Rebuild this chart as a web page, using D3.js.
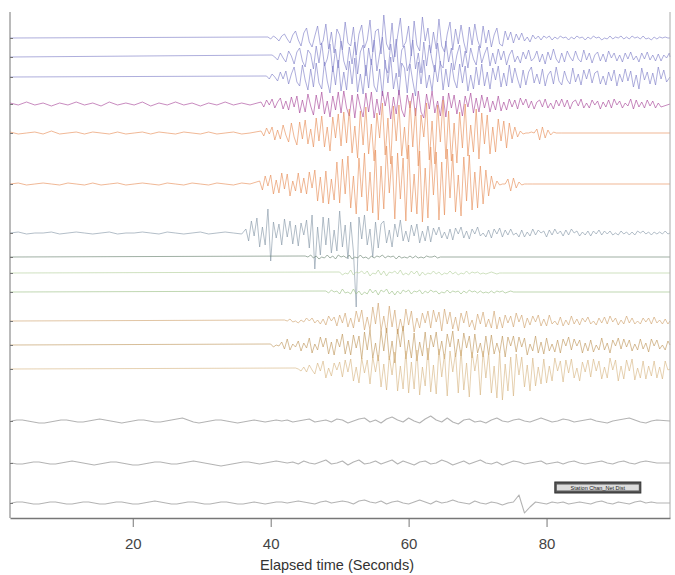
<!DOCTYPE html>
<html>
<head>
<meta charset="utf-8">
<script src="https://cdn.jsdelivr.net/npm/d3@7"></script>
<style>
  body { margin: 0; background: #fff; }
  .axis path, .axis line { stroke: #777; }
  .axis text { font-family: Arial, "Liberation Sans", sans-serif; font-size: 15px; fill: #444; }
</style>
</head>
<body>
<div id="chart"></div>
<script>
// Trace baselines (plot units from top), colours and wave onsets (seconds)
var offsets = [26, 45, 65, 92, 121, 172, 221, 245, 261, 280, 309, 333, 357, 409, 451, 491];
var colors = ["#8080c8", "#8080c8", "#8080c8", "#a8489a", "#e8905a", "#e8905a", "#8898a8", "#6a8270",
  "#b4d09c", "#9cc086", "#d0a470", "#c0985e", "#d8b684", "#a0a0a0", "#a0a0a0", "#a0a0a0"];
var onsets = [39.6, 40.2, 39.4, 38.6, 38.6, 38.4, 36.4, 45, 50, 48, 42, 40, 43.6, 2.4, 2.4, 2.4];
var steps = [0.4, 0.4, 0.4, 0.4, 0.4, 0.4, 0.4, 0.4, 0.4, 0.4, 0.4, 0.4, 0.4, 0.8, 0.8, 0.8];
var tickLabels = [20, 40, 60, 80];

// pre-onset noise, sampled every 1.2 s from the start of the record
var quiet1 = [0];
var quiet2 = [0];
var quiet3 = [0];
var quiet4 = [1, -1, 2, -1, 1, -2, 1, -1, 2, -1, 1, -2, 2, -1, 1, -1, 2, -2, 1, -1, 2, -1, 1, -2, 1, -1, 2, -1, 1, -1];
var quiet5 = [1, -1, 0, 1, -1, 2, -1, 0, 1, -1, 1, 0, -1, 1, -1, 0, 1, -1, 1, 0, -1, 1, 0, -1, 1, -1, 0, 1, -1, 0];
var quiet6 = [0, 1, -1, 0, 1, 0, -1, 1, 0, -1, 1, -1, 0, 1, -1, 0, 1, 0, -1, 1, 0, -1, 1, 0, -1, 1, 0, -1, 1, 0];
var quiet7 = [0, 1, -1, 0, 0, 1, -1, 0, 1, 0, -1, 0, 1, -1, 0, 0, 1, 0, -1, 1, 0, -1, 0, 1, -1, 0, 1, 0, -1];
var quiet8 = [0];
var quiet9 = [0];
var quiet10 = [0];
var quiet11 = [0];
var quiet12 = [0];
var quiet13 = [0];
var quiet14 = [];
var quiet15 = [];
var quiet16 = [];

// wave amplitudes (up positive), one row = 10 samples
var wave1 = [1, -1, 2, 0, -3, 2, 4, -1, -5, 3,
  7, -2, -8, 5, 10, -4, -9, 2, 12, -7,
  -3, 14, -11, 6, -15, 9, 3, -12, 16, -5,
  -8, 11, -17, 4, 13, -10, -2, 18, -14, 7,
  9, -16, 23, -6, -12, 15, -19, 2, 20, -9,
  -4, 12, -18, 17, -7, -13, 21, -3, 10, -15,
  6, -11, 19, -8, -14, 4, 16, -12, 9, -6,
  13, -4, -15, 11, -7, 14, -2, -10, 12, -5,
  8, -9, 3, 10, -6, -8, 7, -2, 6, -5,
  4, -2, 5, -3, 1, -4, 3, -1, 2, -2,
  2, 0, 2, -2, 1, -1, 2, 0, 1, -2,
  1, -1, 2, 0, 1, -2, 1, -1, 2, 0,
  1, -2, 0, -1, 2, -1, 1, 0, 2, -1,
  1, -1, 2, 0, 1, -1, 2, -1, 0, -2,
  1, -1, 1, 0, 1, 0];
var wave2 = [2, 0, -3, 4, -1, -5, 6, 1, -7, 5,
  9, -4, -10, 7, 3, -12, 11, -6, 14, -9,
  -2, 13, -15, 8, -11, 16, -4, -13, 10, -7,
  15, -17, 5, 12, -19, 9, -8, 17, -14, 3,
  20, -10, -16, 13, -5, 18, -20, 7, 11, -14,
  -6, 17, -12, 4, -16, 15, -9, 12, -3, -15,
  14, -7, -11, 16, -5, 9, -13, 2, 12, -10,
  6, -11, 9, -2, -8, 11, -6, 3, 10, -9,
  4, -7, 8, -3, 6, -8, 2, 7, -5, 1,
  -6, 5, -2, 7, -4, -1, 6, -5, 3, -7,
  5, -3, 8, -2, -6, 4, -5, 6, 0, -4,
  6, -2, -5, 7, -3, 4, -6, 2, 5, -4,
  3, -5, 6, -1, 4, -4, 2, -5, 4, -2,
  5, -3, 1, -5, 4, -2, 5, -3, 2, -4,
  3, -4, 2, -1, 4, -2];
var wave3 = [1, -2, 3, 0, -4, 5, -2, 6, -7, 3,
  10, -5, -9, 12, -3, -13, 8, -10, 14, -6,
  -12, 15, -4, -16, 11, -8, 17, -14, 5, -13,
  16, -7, 19, -15, 3, -17, 12, -11, 18, -9,
  -15, 8, -19, 17, -6, 20, -12, 4, -18, 14,
  9, -16, 13, -4, -19, 15, -7, 17, -11, 2,
  -14, 12, -5, 16, -13, 8, -10, 14, -3, -11,
  13, -6, 11, -14, 2, -12, 10, -8, 13, -9,
  5, -12, 9, -3, 11, -10, 4, -9, 12, -6,
  9, -2, -11, 7, -8, 5, 10, -6, 3, -7,
  8, -9, 2, 6, -7, 10, -4, -8, 6, -3,
  -7, 9, -5, 3, -8, 7, -2, 8, -6, 4,
  6, -7, 1, -8, 5, -4, 7, -9, 3, -5,
  8, -4, 6, -10, 2, -12, 9, -3, 5, -7,
  4, -8, 10, -2, 7, -5];
var wave4 = [2, -3, 4, -1, 5, -4, 2, 6, -5, 3,
  -6, 7, -3, 8, -9, 4, -8, 10, -2, -11,
  9, -5, 12, -10, 3, -13, 8, -6, 12, -9,
  13, -4, -12, 9, -14, 10, -3, -13, 11, -8,
  12, -14, 5, -11, 13, -2, 12, -15, 7, -10,
  14, -6, -13, 9, -4, 11, -12, 13, -8, -14,
  10, -5, 13, -9, 3, -12, 8, -13, 11, -4,
  9, -10, 4, -12, 8, -3, 11, -9, 6, -8,
  9, -4, 7, -8, 3, -6, 8, -7, 2, -6,
  5, -3, 4, -5, 6, -1, 5, -4, 3, -5,
  2, 4, -3, 5, -4, 1, -5, 4, -2, 5,
  -3, 4, -5, 2, 4, -2, 5, -4, 1, -4,
  4, -1, 3, -5, 2, -3, 4, -4, 5, -1,
  3, -4, 1, -2, 5, -5, 4, -3, 2, -4,
  4, -2, 3, -4, 1, -3];
var wave5 = [2, -3, 5, -1, 6, -7, 3, -6, 8, -2,
  -9, 10, -4, -12, 11, -6, 13, -11, 4, -14,
  15, -8, 17, -14, 6, -18, 16, -5, 19, -13,
  21, -10, 24, -20, 7, -25, 22, -12, 26, -21,
  9, -28, 20, -5, 30, -22, 15, -31, 27, -8,
  28, -23, 6, -26, 32, -14, 25, -33, 18, -4,
  30, -27, 12, -31, 28, -9, 33, -26, 22, -28,
  10, -30, 21, -15, 29, -23, 8, -19, 24, -26,
  20, -11, 18, -21, 6, -19, 14, -8, 12, -15,
  10, -6, 6, -4, 2, -1, 0, 0, 1, 0,
  4, -7, 6, -5, 3, -2, 1, 0, 0, 0];
var wave6 = [3, -6, 8, -2, 9, -10, 4, -9, 11, -5,
  10, -12, 3, -7, 11, -9, 6, -10, 12, -4,
  14, -17, 7, -19, 13, -20, 5, -16, 22, -19,
  25, -10, 28, -24, 8, -30, 26, -13, 31, -27,
  12, -29, 34, -36, 18, -25, 38, -9, 28, -35,
  31, -15, 26, -37, 39, -28, 10, -30, 33, -38,
  16, -34, 37, -11, 32, -36, 22, -31, 35, -14,
  30, -28, 9, -32, 27, -17, 29, -26, 12, -24,
  18, -20, 14, -12, 8, -5, 3, -1, 0, 0,
  5, -7, 6, -4, 2, -1, 0, 0, 0, 0];
var wave7 = [4, -8, 12, -3, 15, -14, 6, -12, 24, -28,
  11, -5, 9, -12, 14, -4, 12, -11, 8, -13,
  10, -2, 13, -15, 18, -36, 6, -22, 16, -12,
  15, -20, 3, -18, 22, -14, 8, -26, 11, -19,
  -74, 16, -6, 18, -12, 4, -24, 11, -15, 9,
  12, -10, 3, -14, 9, -4, 13, -8, 2, -9,
  8, -3, 9, -10, 2, -8, 7, -9, 5, -2,
  6, -5, 1, -6, 4, -7, 5, -1, 6, -5,
  2, -6, 4, -1, 6, -3, 0, -4, 3, -5,
  4, -1, 5, -4, 3, -2, 4, -2, 0, -4,
  3, -4, 1, -3, 4, -2, 3, 0, 2, -4,
  3, -2, 4, -1, 2, -3, 3, -2, 4, 0,
  2, -3, 1, -2, 2, -3, 2, -1, 3, -2,
  2, -1, 2, -2, 0, -2, 2, -1, 1, -2,
  1, -2, 2, 0, 2, -1, 1, -2, 1, -1,
  1, -1, 2, -1];
var wave8 = [1, 0, 2, -1, 1, -2, 0, -1, 2, -1,
  1, -2, 2, 0, 1, -1, 2, -2, 0, -1,
  2, -1, 0, -2, 1, -1, 1, 0, 2, -1,
  1, 0, 1, -2, 1, -1, 0, -1, 1, -1,
  1, -1, 0, -1, 1, 0, 0, 1, -1, 0];
var wave9 = [1, -2, 0, -1, 3, -2, 1, 0, 2, -1,
  2, -3, 0, -1, 3, -2, 2, -3, 1, 0,
  2, -1, 3, -2, 0, -2, 2, -1, 2, -3,
  1, -2, 0, -1, 2, -1, 1, -2, 0, -1,
  2, -1, 1, -2, 0, -1, 2, -1, 1, 0,
  1, -1, 0, -1, 0, 1, 0, -1, 0, 0];
var wave10 = [1, -1, 2, 0, 1, -2, 3, -1, 0, -2,
  3, -2, 1, -3, 0, -2, 3, -1, 2, -3,
  2, 0, 3, -2, 1, -3, 1, -2, 2, 0,
  2, -2, 1, 0, 2, -2, 1, -1, 2, 0,
  1, -2, 0, -1, 2, -1, 1, 0, 1, -2,
  1, -1, 2, 0, 1, -1, 1, -1, 0, -1,
  1, -1, 1, 0, 1, -1, 0, 1, 0, 0];
var wave11 = [1, 0, 2, -1, 0, -2, 1, -1, 3, 0,
  3, -2, 1, -3, 2, -4, 5, 0, 4, -5,
  6, -2, 8, -6, 3, -7, 10, -1, 11, -9,
  4, -9, 14, -3, 18, -10, 5, -12, 15, -6,
  11, -13, 2, -10, 12, -4, 10, -11, 3, -7,
  8, -2, 10, -7, 11, -1, 9, -10, 12, -3,
  9, -8, 4, -10, 8, -2, 10, -6, 1, -9,
  7, -3, 9, -6, 2, -7, 10, -8, 4, -7,
  6, -2, 5, -6, 8, -1, 6, -7, 3, -4,
  5, -1, 6, -5, 2, -5, 6, -3, 0, -4,
  4, -5, 1, -4, 5, -3, 2, -4, 3, -1,
  4, -3, 0, -4, 3, -2, 4, -3, 5, -1,
  3, -4, 1, -3, 5, -2, 3, -3, 0, -3,
  3, -1, 3, -3, 4, -2, 1, -3, 2, -3];
var wave12 = [1, -2, 0, -1, 3, -4, 6, -5, 1, -2,
  4, -6, 2, -3, 7, -8, 1, -5, 8, -2,
  7, -9, 3, -10, 6, -2, 11, -9, 4, -10,
  10, -3, 9, -14, 13, -5, 15, -13, 2, -16,
  14, -6, 17, -15, 4, -18, 16, -2, 19, -14,
  5, -13, 12, -16, 3, -11, 13, -15, 10, -2,
  13, -10, 4, -14, 11, -2, 14, -12, 6, -11,
  12, -3, 9, -13, 11, -8, 2, -12, 9, -10,
  10, -9, 2, -8, 9, -12, 8, -1, 9, -7,
  8, -2, 7, -10, 1, -6, 9, -8, 3, -9,
  7, -6, 1, -7, 5, -8, 6, -1, 8, -5,
  6, -1, 5, -8, 2, -6, 5, -7, 0, -5,
  7, -5, 2, -8, 5, -1, 7, -4, 6, -2,
  5, -6, 1, -5, 6, -4, 2, -7, 6, -1,
  5, -4, 0, -5, 4];
var wave13 = [1, 0, -2, 2, -3, 4, -1, -5, 6, -2,
  8, -9, 1, -7, 6, -1, 7, -8, 9, -3,
  10, -12, 2, -14, 11, -4, 9, -15, 12, -3,
  14, -18, 5, -21, 13, -6, 17, -22, 3, -20,
  18, -24, 7, -20, 19, -26, 2, -17, 21, -23,
  4, -25, 20, -8, 15, -27, 18, -3, 16, -24,
  19, -21, 6, -28, 17, -2, 15, -26, 18, -9,
  16, -24, 3, -29, 17, -31, 5, -22, 12, -27,
  15, -6, 12, -18, 4, -22, 11, -17, 2, -15,
  10, -14, 3, -12, 11, -2, 8, -13, 9, -4,
  10, -9, 1, -12, 7, -3, 9, -8, 10, -2,
  8, -10, 2, -9, 11, -1, 9, -12, 3, -10,
  9, -2, 10, -11, 1, -9, 8, -10, 3, -7,
  8, -9, 2, -10, 8, -1];
var wave14 = [0, 1, 1, 0, -1, -2, -2, -1, 0, 1,
  1, 0, -1, -1, 0, 1, 2, 1, 0, -1,
  -2, -1, 0, 1, 1, 0, -1, -1, 0, 1,
  2, 3, 1, -1, -2, -1, 0, 1, 1, 0,
  -1, -2, -1, 0, 1, 0, -1, 0, 1, 0,
  1, -1, 0, 1, 2, -1, 0, 1, -1, 2,
  1, -2, 0, 2, 3, -1, 1, -2, 2, 4,
  1, -1, 3, 0, -2, 2, 5, 1, -1, 3,
  -1, -3, 1, 2, -1, 0, -2, 1, 3, 0,
  -1, 1, 2, 0, -1, 1, 3, 1, -1, 0,
  2, 1, -1, 0, 1, 2, 0, -1, -2, 0,
  1, 2, 3, 1, -1, -2, 0, 1];
var wave15 = [0, -1, -1, 0, 1, 1, 0, -1, -1, 0,
  1, 2, 1, 0, -1, -2, -1, 0, 1, 1,
  0, -1, -2, -2, -1, 0, 1, 1, 0, -1,
  -1, 0, 1, 2, 1, 0, -1, -2, -3, -2,
  -1, 0, 1, 1, 0, -1, 0, 1, 2, 1,
  0, 1, -1, 2, 0, -1, 1, 3, -1, 0,
  2, -2, 1, 3, -1, 0, 2, -1, 1, 3,
  -1, 2, 0, -2, 1, 2, -1, 0, 3, 1,
  -2, 0, 2, -1, 1, 3, 0, -1, 1, -2,
  0, 2, 1, -1, 0, 1, 2, -1, 0, 1,
  -1, 1, 2, 0, -1, 0, 1, 2, 0, -1,
  1, 2, 0, -1, 1, 2, 1, 0];
var wave16 = [0, 1, 1, 0, -1, -1, 0, 1, 1, 0,
  -1, -1, 0, 1, 1, 0, -1, -1, 0, 1,
  1, 0, -1, -1, 0, 1, 2, 1, 0, -1,
  -1, 0, 1, 1, 0, -1, -1, 0, 1, 1,
  0, -1, -1, 0, 1, 0, -1, 0, 1, 1,
  0, 1, 2, 1, 0, -1, 1, 2, 0, 1,
  2, 1, -1, 2, 3, 1, 0, 2, -1, 1,
  2, 0, -1, 1, 3, 1, -1, 2, 0, 1,
  3, 1, 0, -1, 2, 0, -1, 1, 0, -2,
  0, 1, 8, -10, -4, 1, 0, -1, 1, 0,
  1, -1, 0, 1, 0, -1, 1, 2, 0, -1,
  1, 0, -1, 1, 2, 0, 1, 0];

var quiets = [quiet1, quiet2, quiet3, quiet4, quiet5, quiet6, quiet7, quiet8,
  quiet9, quiet10, quiet11, quiet12, quiet13, quiet14, quiet15, quiet16];
var waves = [wave1, wave2, wave3, wave4, wave5, wave6, wave7, wave8,
  wave9, wave10, wave11, wave12, wave13, wave14, wave15, wave16];

// Define chart size and margins
var svgWidth = 675;
var svgHeight = 575;
var margin = { top: 12, right: 5, bottom: 57, left: 10 };
var width = svgWidth - margin.left - margin.right;
var height = svgHeight - margin.top - margin.bottom;

var tStart = 2.2;
var tEnd = 97.9;

var svg = d3.select("#chart")
  .append("svg")
  .attr("width", svgWidth)
  .attr("height", svgHeight);

var chartGroup = svg.append("g")
  .attr("transform", `translate(${margin.left}, ${margin.top})`);

var xScale = d3.scaleLinear().domain([tStart, tEnd]).range([0, width]);
var yScale = d3.scaleLinear().domain([0, 506]).range([0, height]);

// turn each trace's samples into [time, position] pairs
function buildTrace(i) {
  var pts = [];
  var q = quiets[i];
  for (var k = 0; k < q.length; k++) {
    var t = tStart + k * 1.2;
    if (t >= onsets[i]) break;
    pts.push([t, offsets[i] - q[k]]);
  }
  var w = waves[i];
  var last = onsets[i];
  for (var j = 0; j < w.length; j++) {
    var tw = onsets[i] + j * steps[i];
    if (tw > tEnd) break;
    pts.push([tw, offsets[i] - w[j]]);
    last = tw;
  }
  if (last < tEnd) pts.push([tEnd, offsets[i]]);
  return pts;
}

var line = d3.line()
  .x(d => xScale(d[0]))
  .y(d => yScale(d[1]));

var traceGroup = chartGroup.append("g");

offsets.forEach(function (off, i) {
  traceGroup.append("path")
    .datum(buildTrace(i))
    .attr("d", line)
    .attr("fill", "none")
    .attr("stroke", colors[i])
    .attr("stroke-width", i >= 13 ? 1.1 : 0.8)
    .attr("stroke-opacity", 0.8)
    .attr("stroke-linejoin", "round");
});

// left axis, one small tick per trace
chartGroup.append("g")
  .attr("class", "axis")
  .call(d3.axisLeft(yScale).tickValues(offsets).tickFormat("").tickSizeInner(-3).tickSizeOuter(0))
  .call(g => g.select(".domain").attr("d", `M0,0V${height}`).attr("stroke", "#666"));

// right frame line
chartGroup.append("line")
  .attr("x1", width).attr("x2", width)
  .attr("y1", 0).attr("y2", height)
  .attr("stroke", "#aaa");

// bottom axis
chartGroup.append("g")
  .attr("class", "axis")
  .attr("transform", `translate(0, ${height})`)
  .call(d3.axisBottom(xScale).tickValues(tickLabels).tickSize(9).tickPadding(11).tickSizeOuter(0))
  .call(g => g.selectAll(".tick line").attr("stroke", "#999"))
  .call(g => g.select(".domain").attr("stroke", "#888").attr("stroke-width", 1.5));

chartGroup.append("text")
  .attr("x", 327)
  .attr("y", height + 52)
  .attr("text-anchor", "middle")
  .style("font-family", "Arial, 'Liberation Sans', sans-serif")
  .style("font-size", "14.5px")
  .style("fill", "#333")
  .text("Elapsed time (Seconds)");

// small station label box
var tag = chartGroup.append("g")
  .attr("transform", `translate(${xScale(81.2)}, ${yScale(470)})`);
tag.append("rect")
  .attr("width", 86).attr("height", 11)
  .attr("fill", "#555").attr("stroke", "#333");
tag.append("rect")
  .attr("x", 2).attr("y", 2.5)
  .attr("width", 82).attr("height", 6)
  .attr("fill", "#ddd");
tag.append("text")
  .attr("x", 43).attr("y", 7.8)
  .attr("text-anchor", "middle")
  .style("font-family", "Arial, sans-serif")
  .style("font-size", "5.5px")
  .style("fill", "#222")
  .text("Station  Chan_Net  Dist");
</script>
</body>
</html>
